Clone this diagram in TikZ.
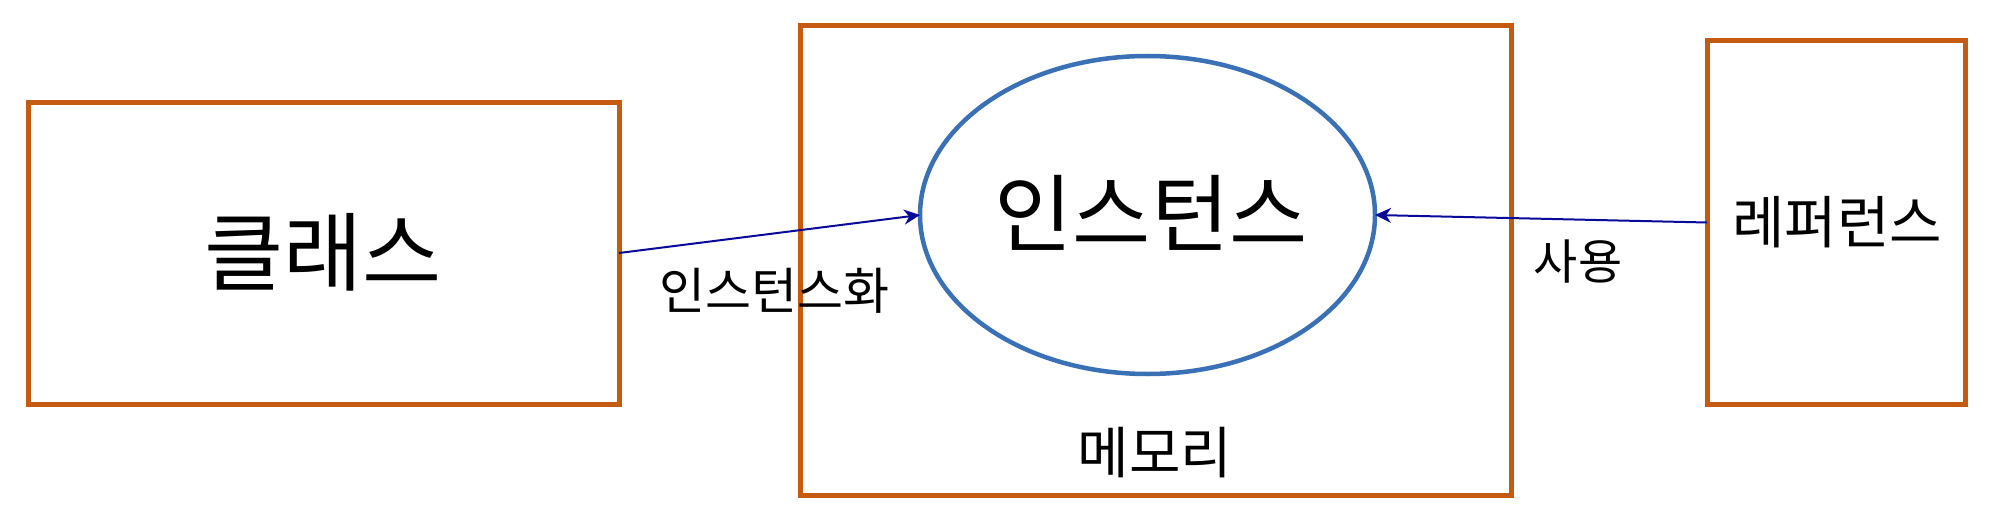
\documentclass[tikz,border=0pt]{standalone}
\usepackage{fontspec}
\newfontfamily\kr{Noto Sans CJK KR}
\usetikzlibrary{shapes.geometric,arrows.meta}
\definecolor{boxorange}{HTML}{C55A11}
\definecolor{ellblue}{HTML}{3A70B5}
\definecolor{arrblue}{HTML}{0A0A9A}
\tikzset{
  framebox/.style={draw=boxorange,line width=5pt,rectangle,outer sep=0pt,inner sep=0pt},
  instell/.style={draw=ellblue,line width=4.5pt,ellipse,outer sep=0pt,inner sep=0pt},
  conn/.style={draw=arrblue,line width=2pt,-{Stealth[length=16pt,width=15pt,inset=5pt]}},
  lbl/.style={inner sep=0pt,font=\kr},
}
\begin{document}
\begin{tikzpicture}[x=1pt,y=-1pt]
\useasboundingbox[fill=white] (0,0) rectangle (2010,527);
\node[framebox,minimum width=591pt,minimum height=302pt] (cls) at (323.5,253) {};
\node[framebox,minimum width=711pt,minimum height=469pt] (mem) at (1155.5,260.5) {};
\node[framebox,minimum width=258pt,minimum height=363pt] (ref) at (1836,222.5) {};
\node[instell,minimum width=455pt,minimum height=318pt] (inst) at (1147.5,215) {};
\node[lbl,font=\kr\fontsize{86pt}{100pt}\selectfont] (tcls) at (323,252) {클래스};
\node[lbl,font=\kr\fontsize{85pt}{100pt}\selectfont] (tinst) at (1151,213) {인스턴스};
\node[lbl,font=\kr\fontsize{57pt}{68pt}\selectfont] (tref) at (1837,222) {레퍼런스};
\node[lbl,font=\kr\fontsize{56pt}{66pt}\selectfont] (tmem) at (1155,452.5) {메모리};
\node[lbl,font=\kr\fontsize{50pt}{60pt}\selectfont] (tmk) at (774,291) {인스턴스화};
\node[lbl,font=\kr\fontsize{48pt}{58pt}\selectfont] (tuse) at (1578,262) {사용};
\draw[conn] (cls.east) -- (inst.west);
\draw[conn] (ref.west) -- (inst.east);
\end{tikzpicture}
\end{document}
